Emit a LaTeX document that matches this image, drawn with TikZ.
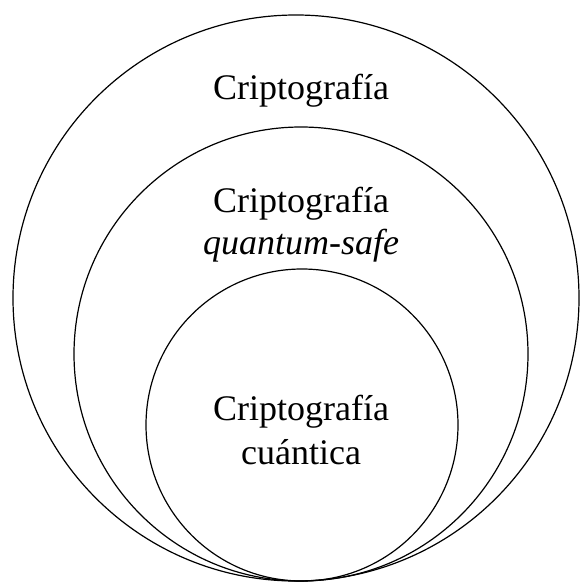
\documentclass[tikz,border=0pt]{standalone}
\usepackage{fontspec}
\setmainfont{Liberation Serif}
\begin{document}
\begin{tikzpicture}[x=1pt,y=-1pt,
  ring/.style={draw=black,line width=1.2pt,circle},
  lbl/.style={font=\fontsize{36}{42}\selectfont,align=center,inner sep=0pt}]
\useasboundingbox (0,0) rectangle (579,583);
\draw[line width=1.2pt] (296,298) circle (283);
\draw[line width=1.2pt] (301,354) circle (227);
\draw[line width=1.2pt] (302,425) circle (156);
\node[lbl,anchor=base] (t1) at (301,100) {Criptografía};
\node[lbl,anchor=base] (t2) at (301,212) {Criptografía};
\node[lbl,anchor=base] (t2b) at (301,254) {\itshape quantum-safe};
\node[lbl,anchor=base] (t3) at (301,420) {Criptografía};
\node[lbl,anchor=base] (t3b) at (301,464) {cuántica};
\end{tikzpicture}
\end{document}
